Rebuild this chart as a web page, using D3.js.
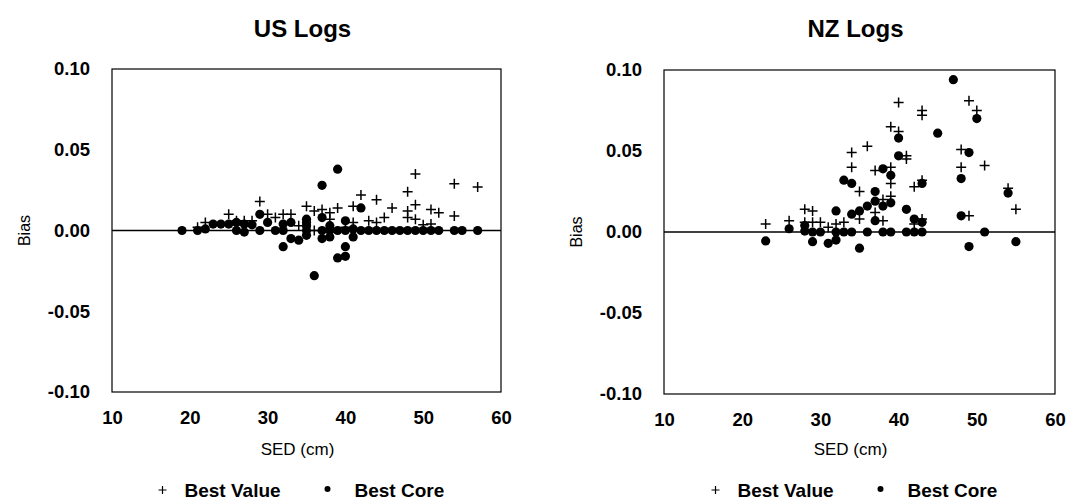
<!DOCTYPE html>
<html>
<head>
<meta charset="utf-8">
<script src="https://cdn.jsdelivr.net/npm/d3@7"></script>
<style>
	body { margin: 0; background: #fff; }
	svg { display: block; font-family: "Liberation Sans", Arial, Helvetica, sans-serif; }
	.tick text { font-weight: bold; font-size: 18.5px; fill: #000; }
</style>
</head>
<body>
<svg id="chart" width="1068" height="500"></svg>
<script>
// values, SED (cm) and bias
const xTicks = [10, 20, 30, 40, 50, 60]
const yTicks = [-0.10, -0.05, 0, 0.05, 0.10]
const legendLabels = ['Best Value', 'Best Core']

const usValueSed = [21, 22, 25, 26, 27, 28, 29, 30, 31, 32, 33, 34, 35, 36, 36, 37, 38, 38, 39, 40, 41, 41, 42, 43, 44, 44, 45, 46, 48, 48, 48, 49, 49, 49, 50, 51, 51, 52, 54, 54, 57]
const usValueBias = [0.002, 0.005, 0.010, 0.006, 0.006, 0.006, 0.018, 0.010, 0.008, 0.010, 0.010, 0.003, 0.015, 0.000, 0.012, 0.013, 0.011, 0.007, 0.014, 0.002, 0.015, 0.005, 0.022, 0.006, 0.019, 0.005, 0.008, 0.014, 0.024, 0.012, 0.008, 0.035, 0.016, 0.007, 0.0035, 0.013, 0.004, 0.011, 0.029, 0.009, 0.027]

const usCoreSed = [19, 21, 22, 23, 24, 25, 26, 26, 27, 27, 28, 29, 29, 30, 31, 32, 32, 32, 33, 33, 34, 35, 35, 35, 35, 35, 36, 37, 37, 37, 37, 38, 38, 38, 39, 39, 39, 40, 40, 40, 40, 41, 41, 42, 42, 43, 44, 45, 46, 47, 48, 49, 50, 51, 52, 54, 55, 57]
const usCoreBias = [0, 0, 0.001, 0.004, 0.004, 0.004, 0.005, 0, 0.004, -0.001, 0.0035, 0.010, 0, 0.005, 0, 0.004, 0, -0.010, 0.005, -0.005, -0.006, 0.007, 0.005, 0.003, 0, -0.003, -0.028, 0.028, 0.008, 0, -0.005, 0.003, 0, -0.004, 0.038, 0, -0.017, 0.006, 0, -0.010, -0.016, 0.001, -0.004, 0.014, 0, 0, 0, 0, 0, 0, 0, 0, 0, 0, 0, 0, 0, 0]

const nzValueSed = [23, 26, 28, 28, 29, 29, 30, 31, 32, 33, 34, 34, 35, 35, 36, 37, 37, 38, 38, 39, 39, 39, 39, 40, 40, 41, 41, 42, 42, 43, 43, 43, 43, 48, 48, 49, 49, 50, 51, 54, 55]
const nzValueBias = [0.005, 0.007, 0.014, 0.006, 0.013, 0.006, 0.006, 0.003, 0.005, 0.006, 0.049, 0.040, 0.025, 0.008, 0.053, 0.038, 0.012, 0.020, 0.007, 0.040, 0.030, 0.022, 0.065, 0.080, 0.062, 0.047, 0.045, 0.028, 0.005, 0.075, 0.072, 0.032, 0.008, 0.051, 0.040, 0.081, 0.010, 0.075, 0.041, 0.027, 0.014]

const nzCoreSed = [23, 26, 28, 28, 29, 29, 30, 31, 32, 32, 32, 33, 33, 34, 34, 34, 35, 35, 36, 36, 37, 37, 37, 38, 38, 38, 39, 39, 39, 40, 40, 41, 41, 42, 42, 43, 43, 43, 45, 47, 48, 48, 49, 49, 50, 51, 54, 55]
const nzCoreBias = [-0.0055, 0.002, 0.004, 0.0006, 0, -0.006, 0, -0.007, 0.013, 0, -0.005, 0.032, 0, 0.030, 0.011, 0, 0.013, -0.010, 0.016, 0, 0.025, 0.019, 0.007, 0.039, 0.016, 0, 0.035, 0.018, 0, 0.058, 0.047, 0.014, 0, 0.008, 0, 0.030, 0.006, 0, 0.061, 0.094, 0.033, 0.010, 0.049, -0.009, 0.070, 0, 0.024, -0.006]

const zip = (a, b) => a.map((v, i) => ({ sed: v, bias: b[i] }))

const svg = d3.select('#chart')

function drawPanel(opt) {
	const x = d3.scaleLinear().domain([10, 60]).range([opt.left, opt.right])
	const y = d3.scaleLinear().domain([-0.1, 0.1]).range([opt.bottom, opt.top])
	const cx = (opt.left + opt.right) / 2
	const g = svg.append('g')

	// frame
	g.append('rect')
		.attr('x', opt.left)
		.attr('y', opt.top)
		.attr('width', opt.right - opt.left)
		.attr('height', opt.bottom - opt.top)
		.attr('fill', 'none')
		.attr('stroke', '#000')
		.attr('stroke-width', 1.2)

	// zero line
	g.append('line')
		.attr('x1', x(10)).attr('x2', x(60))
		.attr('y1', y(0)).attr('y2', y(0))
		.attr('stroke', '#000')
		.attr('stroke-width', 1.4)

	//axes
	g.append('g')
		.attr('transform', `translate(${opt.left}, 0)`)
		.call(d3.axisLeft(y).tickValues(yTicks).tickSize(0).tickPadding(22).tickFormat(d => d.toFixed(2)))
		.call(a => a.select('.domain').remove())

	g.append('g')
		.attr('transform', `translate(0, ${opt.bottom})`)
		.call(d3.axisBottom(x).tickValues(xTicks).tickSize(0).tickPadding(19).tickFormat(d => d))
		.call(a => a.select('.domain').remove())

	g.append('text')
		.attr('x', cx - 4)
		.attr('y', 37)
		.attr('text-anchor', 'middle')
		.style('font-weight', 'bold')
		.style('font-size', '24px')
		.text(opt.title)

	g.append('text')
		.attr('transform', `translate(${opt.left - 88}, ${y(0)}) rotate(-90)`)
		.attr('text-anchor', 'middle')
		.attr('dy', '0.35em')
		.style('font-size', '16px')
		.text('Bias')

	g.append('text')
		.attr('x', cx - 9)
		.attr('y', 455)
		.attr('text-anchor', 'middle')
		.style('font-size', '17px')
		.text('SED (cm)')

	const cross = d => `M${x(d.sed) - 5},${y(d.bias)}h10M${x(d.sed)},${y(d.bias) - 5}v10`

	g.append('g')
		.selectAll('circle')
		.data(opt.core)
		.join('circle')
		.attr('cx', d => x(d.sed))
		.attr('cy', d => y(d.bias))
		.attr('r', 4.6)
		.attr('fill', '#000')

	g.append('g')
		.selectAll('path')
		.data(opt.value)
		.join('path')
		.attr('d', cross)
		.attr('stroke', '#000')
		.attr('stroke-width', 1.5)
		.attr('fill', 'none')

	//legend
	const legY = 490
	g.append('path')
		.attr('d', `M${cx - 148},${legY}h8M${cx - 144},${legY - 4}v8`)
		.attr('stroke', '#000')
		.attr('stroke-width', 1.2)
	g.append('circle')
		.attr('cx', cx + 21)
		.attr('cy', legY - 1)
		.attr('r', 3)
		.attr('fill', '#000')
	g.selectAll('.legend')
		.data(legendLabels)
		.join('text')
		.attr('class', 'legend')
		.attr('x', (d, i) => cx + (i ? 48 : -122))
		.attr('y', legY)
		.attr('dy', '0.35em')
		.style('font-weight', 'bold')
		.style('font-size', '19px')
		.text(d => d)
}

drawPanel({
	title: 'US Logs', left: 112, right: 501, top: 69, bottom: 392,
	value: zip(usValueSed, usValueBias), core: zip(usCoreSed, usCoreBias)
})
drawPanel({
	title: 'NZ Logs', left: 664, right: 1055, top: 70, bottom: 394,
	value: zip(nzValueSed, nzValueBias), core: zip(nzCoreSed, nzCoreBias)
})
</script>
</body>
</html>
